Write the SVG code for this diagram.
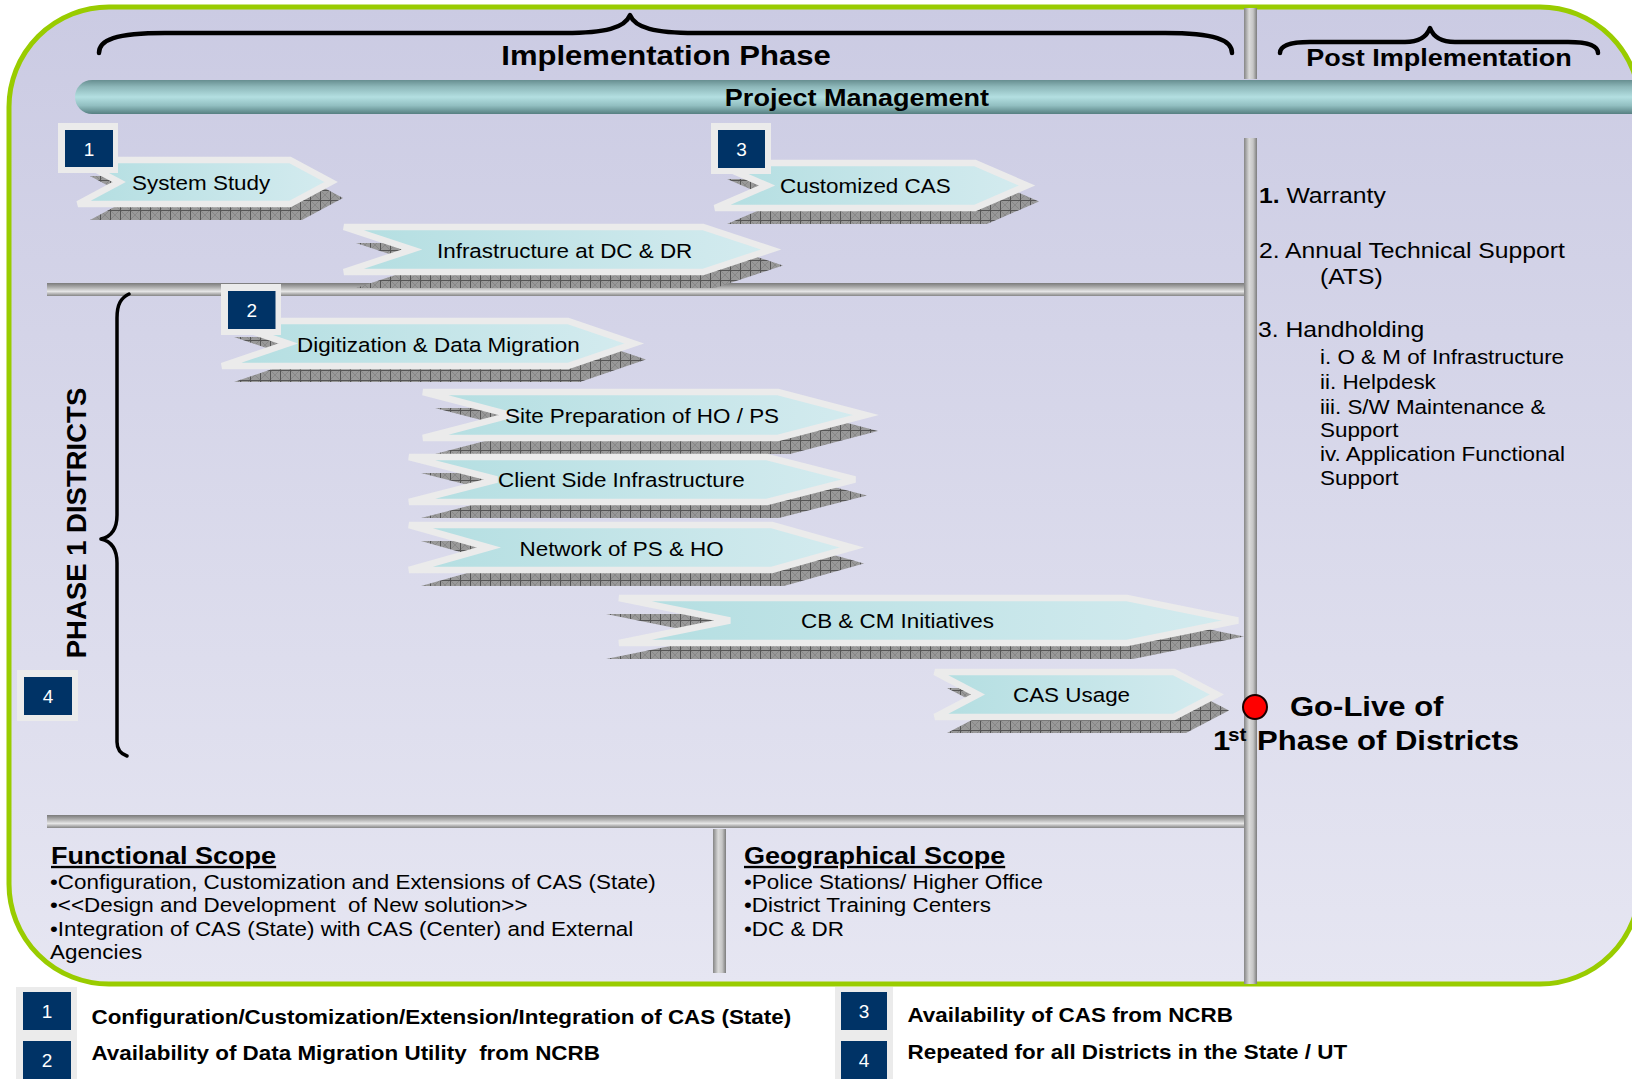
<svg xmlns="http://www.w3.org/2000/svg" width="1632" height="1079" viewBox="0 0 1632 1079">
<defs>
<linearGradient id="bg" x1="0" y1="0" x2="0" y2="1">
<stop offset="0" stop-color="#CBCBE3"/><stop offset="1" stop-color="#E6E6F2"/>
</linearGradient>
<linearGradient id="pm" x1="0" y1="0" x2="0" y2="1">
<stop offset="0" stop-color="#678E90"/><stop offset="0.2" stop-color="#8DB7B9"/><stop offset="0.5" stop-color="#B3DFE1"/><stop offset="0.75" stop-color="#92BFC1"/><stop offset="1" stop-color="#567F81"/>
</linearGradient>
<linearGradient id="hp" x1="0" y1="0" x2="0" y2="1">
<stop offset="0" stop-color="#7A7A7A"/><stop offset="0.3" stop-color="#A8A8A8"/><stop offset="0.65" stop-color="#E6E6E6"/><stop offset="1" stop-color="#848484"/>
</linearGradient>
<linearGradient id="vp" x1="0" y1="0" x2="1" y2="0">
<stop offset="0" stop-color="#858585"/><stop offset="0.4" stop-color="#DADADA"/><stop offset="0.7" stop-color="#C6C6C6"/><stop offset="1" stop-color="#7C7C7C"/>
</linearGradient>
<linearGradient id="cy" x1="0" y1="0" x2="1" y2="0">
<stop offset="0" stop-color="#B3DEE1"/><stop offset="1" stop-color="#D4EBEF"/>
</linearGradient>
<pattern id="hatch" width="10" height="10" patternUnits="userSpaceOnUse">
<rect width="10" height="10" fill="#999999"/>
<path d="M0 0L10 10M10 0L0 10" stroke="#808080" stroke-width="0.7"/>
<path d="M0 0.5H10M0.5 0V10" stroke="#555555" stroke-width="1"/>
</pattern>
<style>
.f{font-family:"Liberation Sans",Arial,Helvetica,sans-serif;fill:#000}
.b{font-weight:bold}
.sx{transform-box:fill-box;transform-origin:0 0;transform:scaleX(1.15)}
.sxm{transform-box:fill-box;transform-origin:50% 0;transform:scaleX(1.15)}
.chev{fill:url(#cy);stroke:#EBEBEB;stroke-width:6.5;stroke-linejoin:miter;stroke-miterlimit:4}
.shad{fill:url(#hatch)}
.lbl{font-size:19.5px}
.lite{fill:#EBEBEB}
.navy{fill:#003366}
.num{font-family:"Liberation Sans",Arial,sans-serif;font-size:19px;fill:#fff;text-anchor:middle}
.brace{fill:none;stroke:#000;stroke-width:4.5;stroke-linecap:round;stroke-linejoin:round}
.rp{font-size:21.5px}
.rs{font-size:19.5px}
.bul{font-size:19.5px}
.hd{font-size:23.5px;font-weight:bold;text-decoration:underline}
.lg{font-size:19.5px;font-weight:bold}
</style>
</defs>
<rect width="1632" height="1079" fill="#FFFFFF"/>
<g id="panel">
<rect x="9" y="7" width="1631" height="977" rx="100" ry="100" fill="url(#bg)" stroke="#99CC00" stroke-width="5"/>
</g>
<g id="dividers">
<rect x="47" y="283" width="1198" height="13" fill="url(#hp)"/>
<rect x="47" y="815" width="1198" height="13" fill="url(#hp)"/>
<rect x="713" y="829" width="13" height="144" fill="url(#vp)"/>
<rect x="1244" y="8" width="13" height="71" fill="url(#vp)"/>
</g>
<g id="project-management">
<rect x="75" y="80" width="1590" height="34" rx="17" fill="url(#pm)"/>
<text class="f b sxm" x="857" y="106" font-size="23.5" text-anchor="middle">Project Management</text>
</g>
<g id="implementation-phase">
<path class="brace" d="M99,53 C99,40 115,33 165,33 L565,33 C605,33 625,28 630,15 C635,28 655,33 695,33 L1165,33 C1215,33 1232,40 1232,53"/>
<text class="f b sxm" x="666" y="65" font-size="27" text-anchor="middle">Implementation Phase</text>
</g>
<g id="post-implementation">
<path class="brace" d="M1280,53 C1280,46 1290,42 1310,42 L1405,42 C1420,42 1427,36 1430,28 C1433,36 1440,42 1455,42 L1568,42 C1588,42 1598,46 1598,53"/>
<text class="f b sxm" x="1439" y="66" font-size="23.5" text-anchor="middle">Post Implementation</text>
</g>
<g id="phase1">
<path class="brace" style="stroke-width:3.5" d="M129,294 C121,298 117,304 117,318 L117,515 C117,530 110,537 101,539 C110,541 117,548 117,563 L117,742 C117,750 121,754 127,756"/>
<text class="f b" transform="translate(85.5,523) rotate(-90)" font-size="27.5" text-anchor="middle">PHASE 1 DISTRICTS</text>
</g>
<g id="task-system-study">
<polygon class="shad" points="90,176 302,176 343,198 302,220 90,220 131,198"/>
<polygon class="chev" points="78,160 290,160 331,182 290,204 78,204 119,182"/>
<text class="f lbl sx" x="132" y="190">System Study</text>
</g>
<g id="task-infrastructure">
<polygon class="shad" points="356,243 715,243 783,265.5 715,288 356,288 424,265.5"/>
<polygon class="chev" points="344,227 703,227 771,249.5 703,272 344,272 412,249.5"/>
<text class="f lbl sx" x="437" y="258">Infrastructure at DC &amp; DR</text>
</g>
<g id="task-customized-cas">
<polygon class="shad" points="727,179 987,179 1039,201.5 987,224 727,224 779,201.5"/>
<polygon class="chev" points="715,163 975,163 1027,185.5 975,208 715,208 767,185.5"/>
<text class="f lbl sx" x="780" y="193">Customized CAS</text>
</g>
<g id="task-digitization">
<polygon class="shad" points="234,337 580,337 646,359.5 580,382 234,382 300,359.5"/>
<polygon class="chev" points="222,321 568,321 634,343.5 568,366 222,366 288,343.5"/>
<text class="f lbl sx" x="297" y="352">Digitization &amp; Data Migration</text>
</g>
<g id="task-site-preparation">
<polygon class="shad" points="435,408 790,408 878,431 790,454 435,454 523,431"/>
<polygon class="chev" points="423,392 778,392 866,415 778,438 423,438 511,415"/>
<text class="f lbl sx" x="505" y="423">Site Preparation of HO / PS</text>
</g>
<g id="task-client-side">
<polygon class="shad" points="421,473 779,473 867,495.5 779,518 421,518 509,495.5"/>
<polygon class="chev" points="409,457 767,457 855,479.5 767,502 409,502 497,479.5"/>
<text class="f lbl sx" x="498" y="487">Client Side Infrastructure</text>
</g>
<g id="task-network">
<polygon class="shad" points="421,541 784,541 864,563.5 784,586 421,586 501,563.5"/>
<polygon class="chev" points="409,525 772,525 852,547.5 772,570 409,570 489,547.5"/>
<text class="f lbl sx" x="519.5" y="556">Network of PS &amp; HO</text>
</g>
<g id="task-cb-cm">
<polygon class="shad" points="606,614 1133,614 1244,636.5 1133,659 606,659 717,636.5"/>
<polygon class="chev" points="619,598 1127,598 1238,620.5 1127,643 619,643 730,620.5"/>
<text class="f lbl sx" x="801" y="628">CB &amp; CM Initiatives</text>
</g>
<g id="task-cas-usage">
<polygon class="shad" points="947,688 1186,688 1229,710.5 1186,733 947,733 990,710.5"/>
<polygon class="chev" points="935,672 1174,672 1217,694.5 1174,717 935,717 978,694.5"/>
<text class="f lbl sx" x="1013" y="702">CAS Usage</text>
</g>
<g id="badge-1">
<rect class="lite" x="58" y="123" width="60" height="50"/>
<rect class="navy" x="65" y="130" width="48" height="37"/>
<text class="num" x="89" y="155.5">1</text>
</g>
<g id="badge-3">
<rect class="lite" x="711" y="123" width="60" height="51"/>
<rect class="navy" x="718" y="130" width="47" height="38"/>
<text class="num" x="741.5" y="156">3</text>
</g>
<g id="badge-2">
<rect class="lite" x="221" y="284" width="60" height="51"/>
<rect class="navy" x="228" y="291" width="47.5" height="38"/>
<text class="num" x="251.8" y="317">2</text>
</g>
<g id="badge-4">
<rect class="lite" x="17" y="670" width="61" height="51"/>
<rect class="navy" x="24" y="677" width="48" height="38"/>
<text class="num" x="48" y="703">4</text>
</g>
<g id="timeline-divider">
<rect x="1244" y="138" width="13" height="846" fill="url(#vp)"/>
</g>
<g id="go-live">
<ellipse cx="1255" cy="707" rx="12" ry="12" fill="#FF0000" stroke="#1A0000" stroke-width="2"/>
<text class="f b sx" x="1290" y="716" font-size="27">Go-Live of</text>
<text class="f b sx" x="1213" y="750" font-size="27">1</text>
<text class="f b sx" x="1228" y="741" font-size="18">st</text>
<text class="f b sx" x="1257" y="750" font-size="27">Phase of Districts</text>
</g>
<g id="post-items">
<text class="f rp sx" x="1259" y="203"><tspan class="b">1.</tspan> Warranty</text>
<text class="f rp sx" x="1259" y="258">2. Annual Technical Support</text>
<text class="f rp sx" x="1320" y="284">(ATS)</text>
<text class="f rp sx" x="1258" y="337">3. Handholding</text>
<text class="f rs sx" x="1320" y="364">i. O &amp; M of Infrastructure</text>
<text class="f rs sx" x="1320" y="389">ii. Helpdesk</text>
<text class="f rs sx" x="1320" y="414">iii. S/W Maintenance &amp;</text>
<text class="f rs sx" x="1320" y="437.5">Support</text>
<text class="f rs sx" x="1320" y="461.5">iv. Application Functional</text>
<text class="f rs sx" x="1320" y="485">Support</text>
</g>
<g id="functional-scope">
<text class="f hd sx" x="51" y="864">Functional Scope</text>
<text class="f bul sx" x="50" y="889">•Configuration, Customization and Extensions of CAS (State)</text>
<text class="f bul sx" x="50" y="912">•&lt;&lt;Design and Development&#160; of New solution&gt;&gt;</text>
<text class="f bul sx" x="50" y="936">•Integration of CAS (State) with CAS (Center) and External</text>
<text class="f bul sx" x="50" y="959">Agencies</text>
</g>
<g id="geographical-scope">
<text class="f hd sx" x="744" y="864">Geographical Scope</text>
<text class="f bul sx" x="744" y="889">•Police Stations/ Higher Office</text>
<text class="f bul sx" x="744" y="912">•District Training Centers</text>
<text class="f bul sx" x="744" y="936">•DC &amp; DR</text>
</g>
<g id="legend">
<rect class="lite" x="16" y="987" width="61" height="92"/>
<rect class="navy" x="23" y="992" width="48" height="38"/>
<text class="num" x="47" y="1018">1</text>
<rect class="navy" x="23" y="1041" width="48" height="38"/>
<text class="num" x="47" y="1067">2</text>
<text class="f lg sx" x="91.5" y="1024">Configuration/Customization/Extension/Integration of CAS (State)</text>
<text class="f lg sx" x="91.5" y="1060">Availability of Data Migration Utility&#160; from NCRB</text>
<rect class="lite" x="835" y="987" width="58" height="92"/>
<rect class="navy" x="841" y="992" width="46" height="38"/>
<text class="num" x="864" y="1018">3</text>
<rect class="navy" x="841" y="1041" width="46" height="38"/>
<text class="num" x="864" y="1067">4</text>
<text class="f lg sx" x="907.5" y="1022">Availability of CAS from NCRB</text>
<text class="f lg sx" x="907.5" y="1059">Repeated for all Districts in the State / UT</text>
</g>
</svg>
